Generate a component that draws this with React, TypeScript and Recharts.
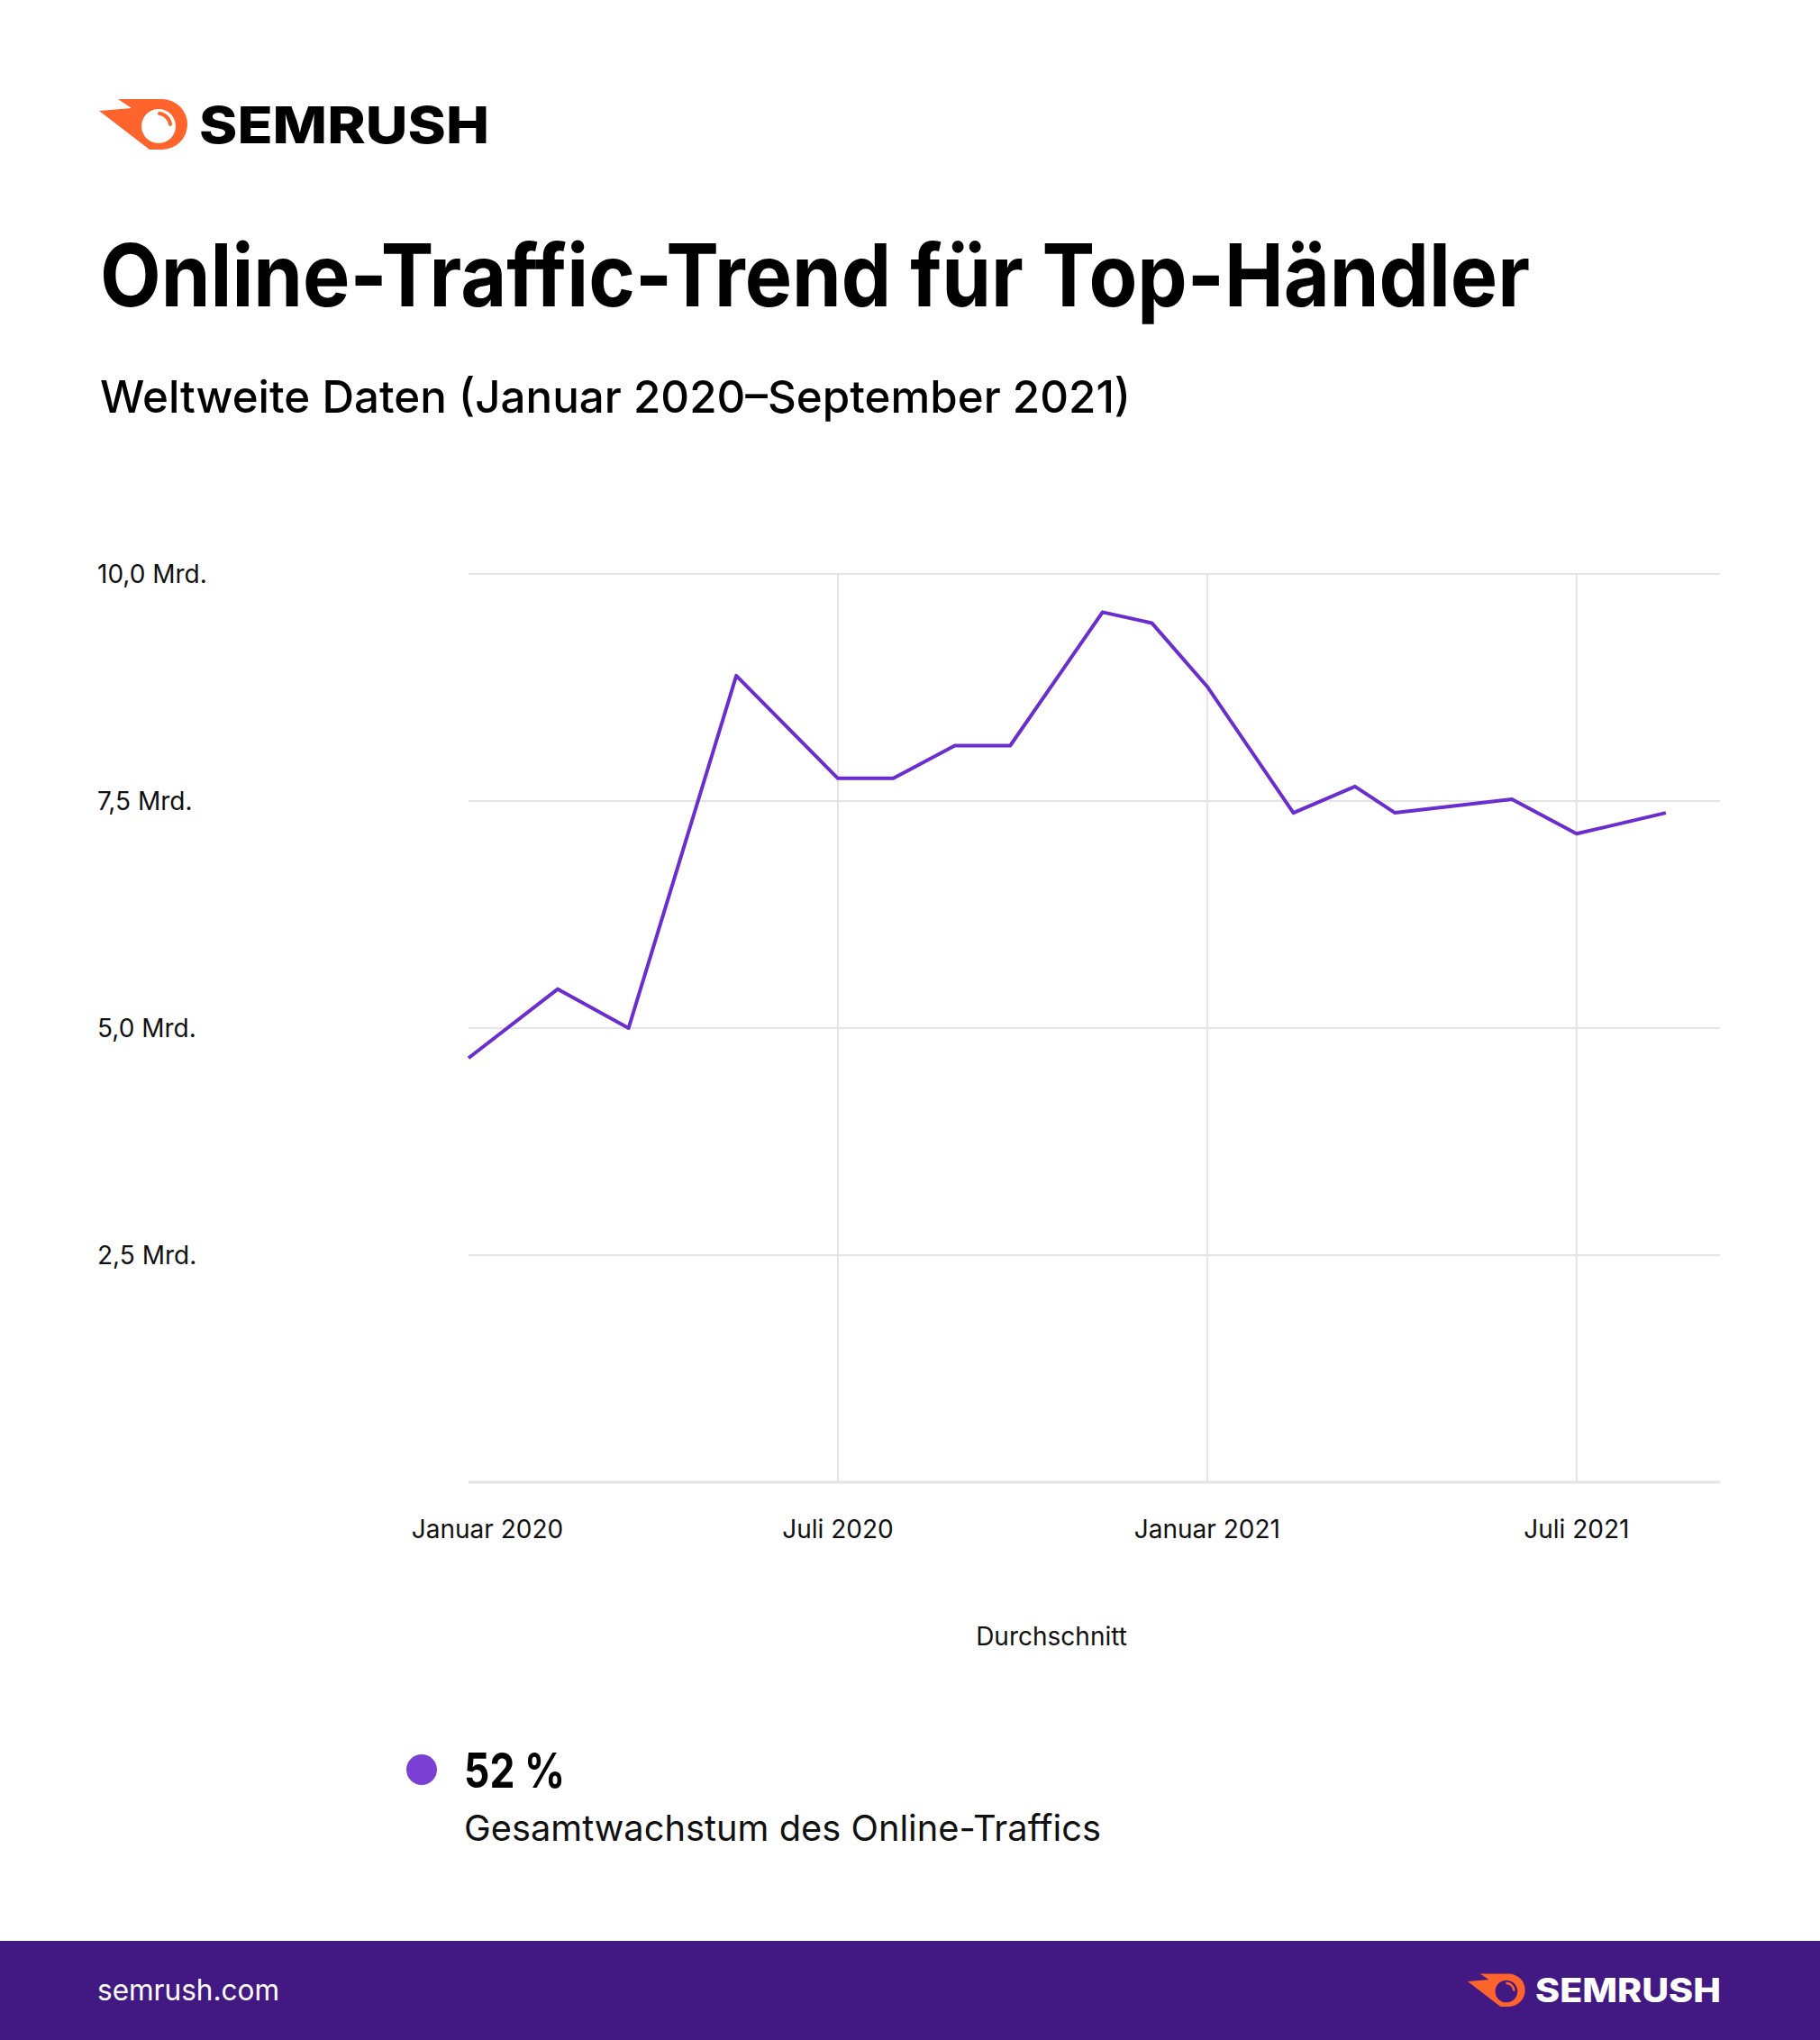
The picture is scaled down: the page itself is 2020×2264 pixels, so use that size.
import React from 'react';
import { LineChart, Line, XAxis, YAxis, CartesianGrid, ReferenceLine } from 'recharts';

// Month position (0 = Januar 2020) and traffic in Mrd.
const monthPos = [0, 1.45, 2.6, 4.35, 6, 6.9, 7.9, 8.8, 10.3, 11.1, 12, 13.4, 14.4, 15.05, 16.95, 18, 19.45];
const trafficMrd = [4.67, 5.43, 5.0, 8.88, 7.75, 7.75, 8.11, 8.11, 9.58, 9.46, 8.76, 7.37, 7.66, 7.37, 7.52, 7.14, 7.37];
const xTickPos = [0, 6, 12, 18];
const xTickLabels = ['Januar 2020', 'Juli 2020', 'Januar 2021', 'Juli 2021'];
const yTicks = [2.5, 5, 7.5, 10];
const yTickLabels = ['2,5 Mrd.', '5,0 Mrd.', '7,5 Mrd.', '10,0 Mrd.'];
const gridMonths = [6, 12, 18];

const data = monthPos.map((m, i) => ({ m, v: trafficMrd[i] }));

const FONT = 'Inter, "Noto Sans", sans-serif';
const ORANGE = '#FF642D';
const LINE = '#6A2ECF';
const GRID = '#E4E4E4';

const XTick = (props: any) => {
  const { x, y, payload, index } = props;
  const i = xTickPos.indexOf(payload.value);
  return (
    <text x={x + (index === 0 ? 21 : 0)} y={y + 52} textAnchor="middle" dominantBaseline="central"
      fontFamily={FONT} fontSize={28} fill="#111">
      {xTickLabels[i]}
    </text>
  );
};

const YTick = (props: any) => {
  const { x, y, payload } = props;
  const i = yTicks.indexOf(payload.value);
  return (
    <text x={x - 412} y={y} textAnchor="start" dominantBaseline="central"
      fontFamily={FONT} fontSize={28} fill="#111">
      {yTickLabels[i]}
    </text>
  );
};

const LogoIcon = ({ tx, ty, s, inner }: { tx: number; ty: number; s: number; inner: string }) => (
  <g transform={`translate(${tx},${ty}) scale(${s})`}>
    <path d="M131 110 L180 110 A28 28 0 0 1 180 166 L166 166 L110 123 L146 120 Z" fill={ORANGE} />
    <circle cx={176} cy={140} r={19} fill={inner} />
    <path d="M177 126 A14 14 0 0 1 189 138" fill="none" stroke={ORANGE} strokeWidth={4} strokeLinecap="round" />
  </g>
);

export default function App() {
  return (
    <div style={{ position: 'absolute', left: 0, top: 0, width: 2020, height: 2264, background: '#fff', overflow: 'hidden' }}>
      <div style={{ position: 'absolute', left: 0, top: 0 }}>
        <LineChart width={2020} height={1760} data={data} margin={{ top: 637, right: 111, bottom: 35, left: 108 }}>
          <CartesianGrid vertical={false} stroke={GRID} strokeWidth={2} />
          {gridMonths.map((g) => (
            <ReferenceLine key={g} x={g} stroke={GRID} strokeWidth={2} />
          ))}
          <XAxis dataKey="m" type="number" domain={[0, 20.33]} ticks={xTickPos} height={80}
            tick={<XTick />} tickLine={false} tickSize={0} tickMargin={0}
            axisLine={{ stroke: GRID, strokeWidth: 3 }} interval={0} />
          <YAxis type="number" domain={[0, 10]} ticks={yTicks} width={412}
            tick={<YTick />} tickLine={false} tickSize={0} tickMargin={0} axisLine={false} interval={0} />
          <Line type="linear" dataKey="v" stroke={LINE} strokeWidth={4} dot={false}
            activeDot={false} isAnimationActive={false} strokeLinejoin="round" />
        </LineChart>
      </div>
      <svg width={2020} height={2264} style={{ position: 'absolute', left: 0, top: 0, pointerEvents: 'none' }}>
        <LogoIcon tx={0} ty={0} s={1} inner="#fff" />
        <text x={221} y={159} fontFamily={FONT} fontWeight={800} fontSize={57} fill="#000"
          textLength={322} lengthAdjust="spacingAndGlyphs">SEMRUSH</text>

        <text x={111} y={340} fontFamily={FONT} fontWeight={700} fontSize={96} fill="#000"
          textLength={1587} lengthAdjust="spacingAndGlyphs">Online-Traffic-Trend für Top-Händler</text>
        <text x={111} y={458} fontFamily={FONT} fontWeight={500} fontSize={50} fill="#000"
          textLength={1144} lengthAdjust="spacingAndGlyphs">Weltweite Daten (Januar 2020–September 2021)</text>

        <text x={1167} y={1816} textAnchor="middle" dominantBaseline="central" fontFamily={FONT} fontSize={28} fill="#111">Durchschnitt</text>

        <circle cx={468} cy={1964} r={17} fill="#7B3FD4" />
        <text x={515} y={1984} fontFamily={FONT} fontWeight={700} fontSize={54} fill="#000"
          textLength={112} lengthAdjust="spacingAndGlyphs">52 %</text>
        <text x={515} y={2043} fontFamily={FONT} fontWeight={400} fontSize={40} fill="#111"
          textLength={707} lengthAdjust="spacingAndGlyphs">Gesamtwachstum des Online-Traffics</text>

        <rect x={0} y={2154} width={2020} height={110} fill="#421983" />
        <text x={108} y={2220} fontFamily={FONT} fontSize={32} fill="#fff"
          textLength={202} lengthAdjust="spacingAndGlyphs">semrush.com</text>
        <LogoIcon tx={1557.5} ty={2119} s={0.65} inner="#421983" />
        <text x={1704} y={2222} fontFamily={FONT} fontWeight={800} fontSize={37} fill="#fff"
          textLength={206} lengthAdjust="spacingAndGlyphs">SEMRUSH</text>
      </svg>
    </div>
  );
}
